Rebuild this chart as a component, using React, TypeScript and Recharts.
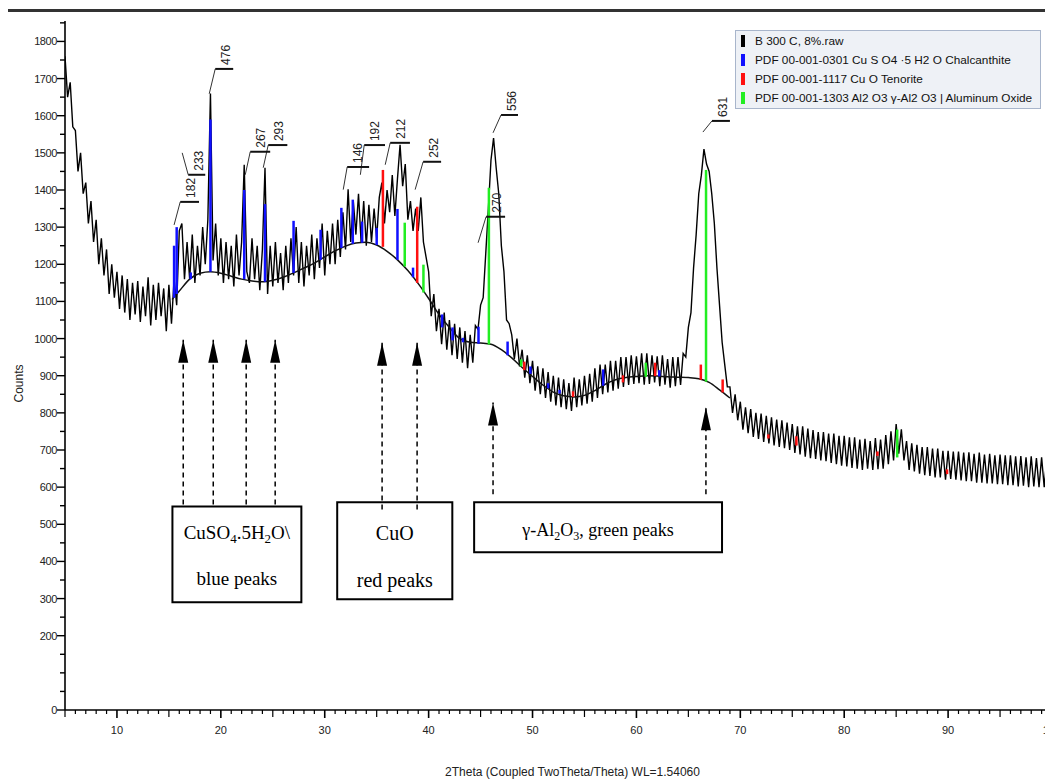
import React from 'react';
import {
  LineChart,
  Line,
  XAxis,
  YAxis,
  ReferenceLine,
  ReferenceDot,
  ReferenceArea,
  Legend,
} from 'recharts';

// measured scan, 2theta from 5 deg in 0.25 deg steps
const scanStart = 5;
const scanStep = 0.25;
const scanCounts = [
  1760, 1650, 1690, 1570, // 5
  1560, 1450, 1500, 1390, // 6
  1420, 1310, 1370, 1260, // 7
  1320, 1200, 1270, 1170, // 8
  1240, 1120, 1200, 1110, // 9
  1180, 1080, 1170, 1070, // 10
  1160, 1050, 1150, 1065, // 11
  1155, 1045, 1140, 1060, // 12
  1165, 1035, 1145, 1050, // 13
  1150, 1060, 1135, 1020, // 14
  1145, 1040, 1160, 1090, // 15
  1290, 1310, 1160, 1260, // 16
  1160, 1280, 1150, 1250, // 17
  1170, 1300, 1200, 1320, // 18
  1660, 1210, 1310, 1170, // 19
  1270, 1150, 1260, 1160, // 20
  1250, 1140, 1280, 1170, // 21
  1260, 1468, 1180, 1150, // 22
  1270, 1160, 1250, 1130, // 23
  1240, 1460, 1120, 1250, // 24
  1140, 1260, 1150, 1230, // 25
  1130, 1250, 1150, 1270, // 26
  1170, 1300, 1150, 1260, // 27
  1140, 1250, 1170, 1280, // 28
  1160, 1270, 1190, 1310, // 29
  1170, 1290, 1200, 1310, // 30
  1200, 1320, 1220, 1340, // 31
  1240, 1402, 1260, 1370, // 32
  1280, 1390, 1260, 1370, // 33
  1250, 1360, 1260, 1350, // 34
  1270, 1380, 1420, 1310, // 35
  1400, 1340, 1440, 1330, // 36
  1430, 1522, 1410, 1470, // 37
  1320, 1370, 1290, 1350, // 38
  1290, 1380, 1260, 1220, // 39
  1180, 1060, 1120, 1020, // 40
  1080, 985, 1070, 970, // 41
  1050, 955, 1040, 945, // 42
  1030, 935, 1020, 920, // 43
  1010, 935, 1035, 1025, // 44
  1090, 1110, 1230, 1350, // 45
  1480, 1540, 1460, 1390, // 46
  1250, 1180, 1050, 1040, // 47
  1010, 945, 1000, 925, // 48
  970, 895, 955, 880, // 49
  940, 860, 925, 850, // 50
  920, 840, 910, 830, // 51
  900, 820, 895, 815, // 52
  890, 810, 880, 805, // 53
  895, 815, 890, 820, // 54
  900, 825, 905, 830, // 55
  920, 840, 930, 850, // 56
  930, 855, 940, 860, // 57
  940, 865, 950, 870, // 58
  950, 875, 955, 878, // 59
  952, 880, 960, 876, // 60
  960, 878, 955, 882, // 61
  952, 872, 955, 876, // 62
  945, 868, 950, 872, // 63
  950, 875, 960, 950, // 64
  1030, 1070, 1190, 1280, // 65
  1390, 1440, 1510, 1470, // 66
  1450, 1390, 1310, 1190, // 67
  1090, 990, 930, 870, // 68
  870, 800, 850, 780, // 69
  830, 755, 815, 745, // 70
  810, 735, 800, 730, // 71
  798, 722, 792, 718, // 72
  788, 712, 782, 708, // 73
  780, 705, 774, 700, // 74
  770, 692, 764, 688, // 75
  764, 682, 758, 678, // 76
  754, 676, 748, 672, // 77
  748, 670, 744, 665, // 78
  744, 662, 738, 658, // 79
  738, 656, 734, 652, // 80
  734, 650, 728, 646, // 81
  730, 650, 724, 646, // 82
  732, 648, 728, 650, // 83
  740, 662, 750, 672, // 84
  770, 690, 756, 672, // 85
  724, 646, 718, 642, // 86
  714, 636, 708, 632, // 87
  708, 630, 704, 626, // 88
  704, 626, 698, 620, // 89
  698, 622, 696, 620, // 90
  696, 618, 693, 616, // 91
  694, 616, 690, 612, // 92
  693, 612, 688, 610, // 93
  690, 610, 686, 608, // 94
  688, 608, 686, 605, // 95
  686, 605, 683, 602, // 96
  684, 604, 680, 600, // 97
  683, 602, 678, 600, // 98
  680, 600, 678, 598, // 99
  660,
];

// fitted background
const bgTheta = [15.3, 16, 17, 18, 19, 20, 21, 22, 23, 24, 25, 26, 27, 28, 29, 30, 31, 32, 33, 34, 35, 36, 37, 38, 39, 40, 41, 42, 43, 44, 45, 46, 47, 48, 49, 50, 51, 52, 53, 54, 55, 56, 57, 58, 59, 60, 61, 62, 63, 64, 65, 66, 67, 68, 69];
const bgCounts = [1105, 1128, 1160, 1176, 1180, 1176, 1168, 1160, 1155, 1153, 1157, 1165, 1177, 1190, 1203, 1220, 1236, 1249, 1257, 1259, 1252, 1235, 1212, 1183, 1148, 1108, 1065, 1030, 1000, 990, 988, 985, 970, 948, 922, 898, 875, 856, 846, 843, 847, 860, 877, 889, 895, 898, 900, 899, 897, 896, 895, 892, 882, 862, 840];

// reference patterns (stick positions, base and top in counts)
const blueTheta = [15.5, 15.75, 17.1, 19.0, 22.25, 24.25, 27.0, 29.6, 31.6, 32.7, 33.6, 35.0, 37.0, 38.5, 41.3, 42.3, 43.3, 44.8, 47.6, 49.8, 51.5, 52.6, 56.8, 62.2];
const blueBase = [1110, 1120, 1160, 1180, 1160, 1153, 1177, 1212, 1244, 1255, 1258, 1252, 1212, 1165, 1030, 995, 990, 986, 955, 905, 866, 852, 873, 898];
const blueTop = [1250, 1300, 1178, 1590, 1400, 1362, 1317, 1293, 1352, 1374, 1315, 1298, 1349, 1191, 1065, 1030, 1002, 1032, 992, 925, 880, 862, 917, 915];

const redTheta = [35.6, 38.9, 49.2, 53.9, 58.7, 61.8, 66.2, 68.3, 72.7, 75.4, 83.2, 89.9];
const redBase = [1247, 1150, 915, 843, 882, 899, 889, 855, 731, 712, 684, 635];
const redTop = [1454, 1355, 938, 858, 901, 935, 930, 890, 742, 737, 696, 648];

const greenTheta = [37.7, 39.5, 45.8, 48.9, 60.9, 66.7, 85.1];
const greenBase = [1194, 1124, 984, 925, 897, 884, 680];
const greenTop = [1312, 1199, 1406, 944, 935, 1454, 755];

// peak tags: leader from peak to tag bar
const tagText = ['182', '233', '476', '267', '293', '146', '192', '212', '252', '270', '556', '631'];
const tagPeakTheta = [15.5, 16.28, 18.88, 22.35, 24.08, 31.78, 33.43, 35.82, 38.7, 44.76, 46.2, 66.4];
const tagPeakCount = [1306, 1500, 1659, 1441, 1460, 1401, 1441, 1468, 1401, 1258, 1554, 1556];
const tagTheta = [16.09, 16.86, 19.46, 22.83, 24.56, 32.16, 33.8, 36.3, 39.47, 45.53, 46.97, 67.27];
const tagCount = [1368, 1441, 1726, 1503, 1521, 1462, 1521, 1527, 1476, 1328, 1602, 1586];
const tagEnd = [17.9, 18.5, 21.19, 24.75, 26.4, 34.27, 35.8, 38.2, 41.2, 47.36, 48.6, 69.0];

// annotation arrows
const arrowTheta = [16.38, 19.27, 22.44, 25.23, 35.52, 38.89, 46.2, 66.69];
const arrowTip = [997, 997, 997, 997, 989, 989, 828, 815];
const arrowTail = [553, 553, 553, 553, 540, 540, 581, 581];

// annotation boxes
const boxLeft = [15.34, 31.2, 44.38];
const boxRight = [27.75, 42.28, 68.24];
const boxTop = [548, 559, 559];
const boxBottom = [290, 298, 425];

const legendNames = [
  'B 300 C, 8%.raw',
  'PDF 00-001-0301 Cu S O4 ·5 H2 O Chalcanthite',
  'PDF 00-001-1117 Cu O Tenorite',
  'PDF 00-001-1303 Al2 O3 γ-Al2 O3 | Aluminum Oxide',
];
const legendColors = ['#000000', '#1010ff', '#ff1010', '#22ee22'];

const xLabels = [10, 20, 30, 40, 50, 60, 70, 80, 90, 100];
const yLabels = [0, 200, 300, 400, 500, 600, 700, 800, 900, 1000, 1100, 1200, 1300, 1400, 1500, 1600, 1700, 1800];

const xTicks = Array.from({ length: 96 }, (_, i) => 5 + i);
const yTicks = Array.from({ length: 38 }, (_, i) => i * 50);

const scan = scanCounts.map((c, i) => ({ theta: scanStart + i * scanStep, counts: c }));
const background = bgTheta.map((t, i) => ({ theta: t, counts: bgCounts[i] }));

const sansFont = '"Liberation Sans", Arial, sans-serif';
const serifFont = '"Liberation Serif", "Times New Roman", serif';

const XTick = (props: any) => {
  const { x, y, payload } = props;
  const v = payload.value;
  const major = v % 10 === 0;
  const len = major ? 8 : v % 5 === 0 ? 7 : 4;
  return (
    <g>
      <line x1={x} x2={x} y1={y} y2={y + len} stroke="#000" strokeWidth={major ? 1.6 : 1.2} />
      {xLabels.includes(v) && (
        <text x={x} y={y + 24} textAnchor="middle" fontSize={11} fontFamily={sansFont} fill="#222">
          {v}
        </text>
      )}
    </g>
  );
};

const YTick = (props: any) => {
  const { x, y, payload } = props;
  const v = payload.value;
  const labelled = yLabels.includes(v);
  return (
    <g>
      <line x1={x - (labelled ? 8 : 5)} x2={x} y1={y} y2={y} stroke="#000" strokeWidth={1.4} />
      {labelled && (
        <text x={x - 8} y={y + 4} textAnchor="end" fontSize={11} fontFamily={sansFont} fill="#222" letterSpacing={-0.4}>
          {v}
        </text>
      )}
    </g>
  );
};

const CountsTitle = (props: any) => {
  const { viewBox } = props;
  const cx = viewBox.x + 23;
  const cy = viewBox.y + viewBox.height / 2 + 18;
  return (
    <text x={cx} y={cy} transform={`rotate(-90 ${cx} ${cy})`} textAnchor="middle" fontSize={12} fontFamily={sansFont} fill="#222">
      Counts
    </text>
  );
};

const ThetaTitle = (props: any) => {
  const { viewBox } = props;
  return (
    <text x={viewBox.x + viewBox.width / 2 + 14} y={viewBox.y + 66} textAnchor="middle" fontSize={12} fontFamily={sansFont} fill="#222">
      2Theta (Coupled TwoTheta/Theta) WL=1.54060
    </text>
  );
};

const LegendBox = () => (
  <div
    style={{
      width: 306,
      height: 79,
      boxSizing: 'border-box',
      background: '#eef1f6',
      border: '1px solid #a8b5cb',
      paddingLeft: 5,
      fontFamily: sansFont,
      fontSize: 11.8,
      color: '#111',
    }}
  >
    {legendNames.map((n, i) => (
      <div key={n} style={{ display: 'flex', alignItems: 'center', height: 19, whiteSpace: 'nowrap' }}>
        <span style={{ display: 'inline-block', width: 4, height: 12, background: legendColors[i], marginRight: 10 }} />
        {n}
      </div>
    ))}
  </div>
);

const sticks = (theta: number[], base: number[], top: number[], color: string) =>
  theta.map((t, i) => (
    <ReferenceLine
      key={`${color}-${i}`}
      segment={[{ x: t, y: base[i] }, { x: t, y: top[i] }]}
      stroke={color}
      strokeWidth={2.5}
    />
  ));

export default function App() {
  return (
    <div style={{ position: 'absolute', left: 0, top: 0, width: 1045, height: 779, overflow: 'hidden', background: '#fff' }}>
      <div style={{ position: 'absolute', left: 8, right: 0, top: 9, height: 3, background: '#333' }} />
      <LineChart width={1060} height={779} margin={{ top: 21, right: 8, left: 0, bottom: 0 }}>
        <XAxis
          dataKey="theta"
          type="number"
          domain={[5, 100]}
          ticks={xTicks}
          interval={0}
          tick={<XTick />}
          tickLine={false}
          tickSize={0}
          tickMargin={0}
          height={69}
          axisLine={{ stroke: '#000', strokeWidth: 1.6 }}
          allowDataOverflow
          label={<ThetaTitle />}
        />
        <YAxis
          type="number"
          domain={[0, 1855]}
          ticks={yTicks}
          interval={0}
          tick={<YTick />}
          tickLine={false}
          tickSize={0}
          tickMargin={0}
          width={65}
          axisLine={{ stroke: '#000', strokeWidth: 1.6 }}
          allowDataOverflow
          label={<CountsTitle />}
        />
        <Legend
          layout="vertical"
          align="center"
          verticalAlign="middle"
          content={() => <LegendBox />}
          wrapperStyle={{ top: 30, left: 735, width: 306 }}
        />
        <Line data={scan} dataKey="counts" stroke="#000" strokeWidth={1.4} dot={false} isAnimationActive={false} legendType="none" />
        <Line data={background} dataKey="counts" type="monotone" stroke="#111" strokeWidth={1.5} dot={false} isAnimationActive={false} legendType="none" />

        {sticks(blueTheta, blueBase, blueTop, legendColors[1])}
        {sticks(redTheta, redBase, redTop, legendColors[2])}
        {sticks(greenTheta, greenBase, greenTop, legendColors[3])}

        {tagText.map((txt, i) => (
          <ReferenceLine
            key={`lead-${i}`}
            segment={[{ x: tagPeakTheta[i], y: tagPeakCount[i] }, { x: tagTheta[i], y: tagCount[i] }]}
            stroke="#333"
            strokeWidth={1}
          />
        ))}
        {tagText.map((txt, i) => (
          <ReferenceLine
            key={`bar-${i}`}
            segment={[{ x: tagTheta[i], y: tagCount[i] }, { x: tagEnd[i], y: tagCount[i] }]}
            stroke="#111"
            strokeWidth={2}
          />
        ))}
        {tagText.map((txt, i) => (
          <ReferenceDot
            key={`tag-${i}`}
            x={tagTheta[i]}
            y={tagCount[i]}
            r={0}
            shape={(p: any) => {
              const tx = p.cx + 15;
              const ty = p.cy - 4;
              return (
                <text x={tx} y={ty} transform={`rotate(-90 ${tx} ${ty})`} fontSize={12} fontFamily={sansFont} fill="#222">
                  {txt}
                </text>
              );
            }}
          />
        ))}

        {arrowTheta.map((t, i) => (
          <ReferenceLine
            key={`arr-${i}`}
            segment={[{ x: t, y: arrowTail[i] }, { x: t, y: arrowTip[i] }]}
            stroke="#000"
            strokeWidth={1.5}
            strokeDasharray="5 4"
          />
        ))}
        {arrowTheta.map((t, i) => (
          <ReferenceDot
            key={`head-${i}`}
            x={t}
            y={arrowTip[i]}
            r={0}
            shape={(p: any) => (
              <polygon points={`${p.cx},${p.cy} ${p.cx - 5},${p.cy + 23} ${p.cx + 5},${p.cy + 23}`} fill="#000" />
            )}
          />
        ))}

        {boxLeft.map((l, i) => (
          <ReferenceArea
            key={`box-${i}`}
            x1={l}
            x2={boxRight[i]}
            y1={boxBottom[i]}
            y2={boxTop[i]}
            fill="#fff"
            fillOpacity={1}
            stroke="#000"
            strokeWidth={2}
          />
        ))}
        <ReferenceDot
          x={(boxLeft[0] + boxRight[0]) / 2}
          y={460}
          r={0}
          shape={(p: any) => (
            <text x={p.cx} y={p.cy} textAnchor="middle" fontSize={19} fontFamily={serifFont} fill="#000">
              CuSO<tspan fontSize={13} dy={4}>4</tspan>
              <tspan dy={-4}>.5H</tspan>
              <tspan fontSize={13} dy={4}>2</tspan>
              <tspan dy={-4}>O\</tspan>
            </text>
          )}
        />
        <ReferenceDot
          x={(boxLeft[0] + boxRight[0]) / 2}
          y={337}
          r={0}
          shape={(p: any) => (
            <text x={p.cx} y={p.cy} textAnchor="middle" fontSize={19} fontFamily={serifFont} fill="#000">
              blue peaks
            </text>
          )}
        />
        <ReferenceDot
          x={(boxLeft[1] + boxRight[1]) / 2}
          y={458}
          r={0}
          shape={(p: any) => (
            <text x={p.cx} y={p.cy} textAnchor="middle" fontSize={20} fontFamily={serifFont} fill="#000">
              CuO
            </text>
          )}
        />
        <ReferenceDot
          x={(boxLeft[1] + boxRight[1]) / 2}
          y={331}
          r={0}
          shape={(p: any) => (
            <text x={p.cx} y={p.cy} textAnchor="middle" fontSize={20} fontFamily={serifFont} fill="#000">
              red peaks
            </text>
          )}
        />
        <ReferenceDot
          x={(boxLeft[2] + boxRight[2]) / 2}
          y={468}
          r={0}
          shape={(p: any) => (
            <text x={p.cx} y={p.cy} textAnchor="middle" fontSize={18} fontFamily={serifFont} fill="#000">
              γ-Al<tspan fontSize={12} dy={4}>2</tspan>
              <tspan dy={-4}>O</tspan>
              <tspan fontSize={12} dy={4}>3</tspan>
              <tspan dy={-4}>, green peaks</tspan>
            </text>
          )}
        />
      </LineChart>
    </div>
  );
}
